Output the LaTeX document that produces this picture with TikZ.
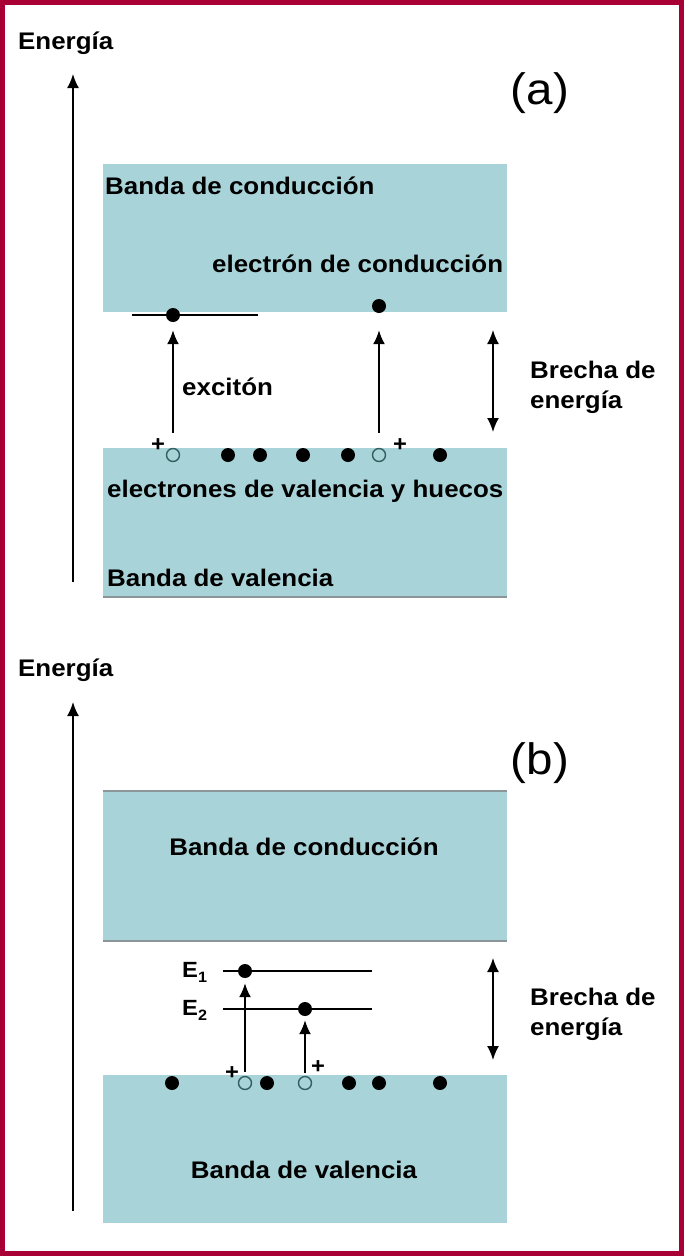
\documentclass[tikz,border=0pt]{standalone}
\usepackage{fontspec}
\setmainfont{Liberation Sans}[FakeStretch=1.08]
\usetikzlibrary{arrows.meta,positioning}
\definecolor{BandTeal}{RGB}{168,212,217}
\definecolor{FrameRed}{RGB}{168,0,52}
\definecolor{HoleEdge}{RGB}{50,95,95}
\definecolor{EdgeGray}{RGB}{140,150,152}
\begin{document}
\begin{tikzpicture}[
  x=1pt,y=-1pt,
  lbl/.style={font=\fontsize{24}{30}\selectfont\bfseries,inner sep=0pt},
  tag/.style={font=\fontsize{44}{44}\selectfont,inner sep=0pt},
  plus/.style={font=\fontsize{22}{22}\selectfont\bfseries,inner sep=0pt},
  band/.style={fill=BandTeal},
  edge/.style={draw=EdgeGray,line width=1.5pt},
  dot/.style={circle,fill=black,minimum size=14pt,inner sep=0pt},
  hole/.style={circle,draw=HoleEdge,fill=BandTeal,line width=1.4pt,minimum size=13pt,inner sep=0pt},
  level/.style={line width=1.8pt},
  arrow/.style={-{Latex[length=14pt,width=12pt]},line width=1.8pt},
  twoway/.style={{Latex[length=14pt,width=12pt]}-{Latex[length=14pt,width=12pt]},line width=1.8pt}
]
\useasboundingbox (0,0) rectangle (684,1256);
\fill[FrameRed] (0,0) rectangle (684,1256);
\fill[white] (5,5) rectangle (679,1251);

% (a)
\node[lbl,anchor=base west] (enA) at (18,49) {Energía};
\coordinate (axA0) at (73,582); \coordinate (axA1) at (73,74);
\draw[arrow] (axA0)--(axA1);
\node[tag] (tagA) at (540,93) {(a)};
\fill[band] (103,164) rectangle (507,312);
\fill[band] (103,448) rectangle (507,597);
\draw[edge] (103,597)--(507,597);
\node[lbl,anchor=base west] (condA) at (105,194) {Banda de conducción};
\node[lbl,anchor=base west] (elecA) at (212,272) {electrón de conducción};
\node[lbl,anchor=base west] (valeA) at (107,497) {electrones de valencia y huecos};
\node[lbl,anchor=base west] (bvalA) at (107,586) {Banda de valencia};
\coordinate (lvA0) at (132,315); \coordinate (lvA1) at (258,315);
\draw[level] (lvA0)--(lvA1);
\node[dot] (eA1) at (173,315) {};
\node[dot] (eA2) at (379,306) {};
\node[hole] (hA1) at (173,455) {};
\node[hole] (hA2) at (379,455) {};
\foreach \x in {228,260,303,348,440} \node[dot] at (\x,455) {};
\node[plus] (pA1) at (158,445) {+};
\node[plus] (pA2) at (400,445) {+};
\draw[arrow,shorten <=15pt,shorten >=8pt] (hA1)--(eA1);
\draw[arrow,shorten <=15pt,shorten >=17pt] (hA2)--(eA2);
\node[lbl,anchor=base west] (excA) at (182,395) {excitón};
\coordinate (gapA0) at (493,330); \coordinate (gapA1) at (493,432);
\draw[twoway] (gapA0)--(gapA1);
\node[lbl,anchor=base west] (brA1) at (530,378) {Brecha de};
\node[lbl,anchor=base west] (brA2) at (530,408) {energía};

% (b)
\node[lbl,anchor=base west] (enB) at (18,676) {Energía};
\coordinate (axB0) at (73,1211); \coordinate (axB1) at (73,702);
\draw[arrow] (axB0)--(axB1);
\node[tag] (tagB) at (540,763) {(b)};
\fill[band] (103,791) rectangle (507,941);
\draw[edge] (103,791)--(507,791); \draw[edge] (103,941)--(507,941);
\fill[band] (103,1075) rectangle (507,1223);
\node[lbl,anchor=base] (condB) at (304,855) {Banda de conducción};
\node[lbl,anchor=base] (bvalB) at (304,1178) {Banda de valencia};
\coordinate (lvB0) at (223,971); \coordinate (lvB1) at (372,971);
\coordinate (lvB2) at (223,1009); \coordinate (lvB3) at (372,1009);
\draw[level] (lvB0)--(lvB1); \draw[level] (lvB2)--(lvB3);
\node[font=\fontsize{22}{22}\selectfont\bfseries,inner sep=0pt,anchor=base west] (E1) at (182,977) {E\raisebox{-5pt}{\fontsize{15}{15}\selectfont 1}};
\node[font=\fontsize{22}{22}\selectfont\bfseries,inner sep=0pt,anchor=base west] (E2) at (182,1015) {E\raisebox{-5pt}{\fontsize{15}{15}\selectfont 2}};
\node[dot] (eB1) at (245,971) {};
\node[dot] (eB2) at (305,1009) {};
\node[hole] (hB1) at (245,1083) {};
\node[hole] (hB2) at (305,1083) {};
\foreach \x in {172,267,349,379,440} \node[dot] at (\x,1083) {};
\node[plus] (pB1) at (232,1073) {+};
\node[plus] (pB2) at (318,1067) {+};
\draw[arrow,shorten <=4pt,shorten >=5pt] (hB1)--(eB1);
\draw[arrow,shorten <=3pt,shorten >=4pt] (hB2)--(eB2);
\coordinate (gapB0) at (493,958); \coordinate (gapB1) at (493,1060);
\draw[twoway] (gapB0)--(gapB1);
\node[lbl,anchor=base west] (brB1) at (530,1005) {Brecha de};
\node[lbl,anchor=base west] (brB2) at (530,1035) {energía};
\end{tikzpicture}
\end{document}
